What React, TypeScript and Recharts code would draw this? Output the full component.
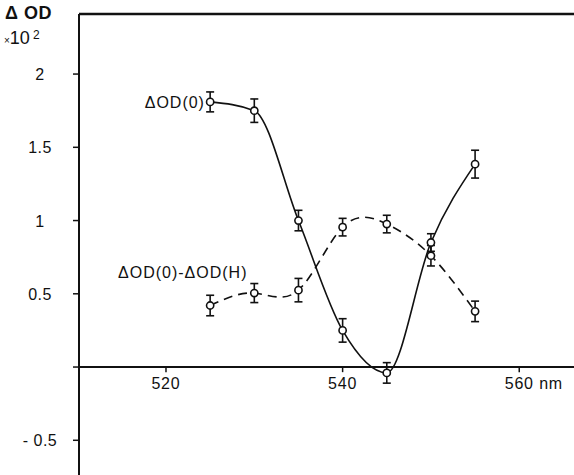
import React from 'react';
import {
  LineChart, Line, XAxis, YAxis, ErrorBar, ReferenceLine, ReferenceDot,
} from 'recharts';

const FONT = '"Liberation Sans", Arial, sans-serif';
const INK = '#111';

// Wavelengths (nm) and the two measured series (ΔOD ×10²)
const wavelengths = [525, 530, 535, 540, 545, 550, 555];
const od0 = [1.81, 1.75, 1.0, 0.25, -0.04, 0.85, 1.385];
const od0Err = [0.068, 0.08, 0.07, 0.08, 0.07, 0.06, 0.095];
const odDiff = [0.42, 0.505, 0.525, 0.955, 0.976, 0.76, 0.38];
const odDiffErr = [0.07, 0.065, 0.08, 0.06, 0.06, 0.07, 0.07];

const xTicks = [520, 540, 560];
const yTicks = [-0.5, 0, 0.5, 1, 1.5, 2];
const X_DOMAIN: [number, number] = [510.15, 566.2];
const Y_MIN = -0.737;
const Y_MAX = 2.41;

const data = wavelengths.map((nm, i) => ({
  nm,
  od0: od0[i],
  od0Err: od0Err[i],
  diff: odDiff[i],
  diffErr: odDiffErr[i],
}));

const yLabel = (v: number) => {
  if (v === 0) return '';
  if (v < 0) return `- ${Math.abs(v)}`;
  return String(v);
};

const OpenDot = (p: any) => (
  <circle key={p.index} cx={p.cx} cy={p.cy} r={3.6} fill="#fff" stroke={INK} strokeWidth={1.6} />
);

const YTick = (p: any) => (
  <text x={p.x - 31} y={p.y} dy={6} textAnchor="middle" fill={INK}
    fontFamily={FONT} fontSize={16} letterSpacing={0.5}>
    {yLabel(p.payload.value)}
  </text>
);

const xTickShape = (value: number) => (p: any) => (
  <g>
    <text x={p.cx} y={p.cy} dy={6} textAnchor="middle" fill={INK}
      fontFamily={FONT} fontSize={16} letterSpacing={0.8}>{value}</text>
    {value === 560 && (
      <text x={p.cx + 20} y={p.cy} dy={6} textAnchor="start" fill={INK}
        fontFamily={FONT} fontSize={16} letterSpacing={0.5}>nm</text>
    )}
  </g>
);

const textShape = (value: string) => (p: any) => (
  <text x={p.cx} y={p.cy} dy={6} textAnchor="middle" fill={INK}
    fontFamily={FONT} fontSize={16} letterSpacing={1}>{value}</text>
);

export default function App() {
  return (
    <div style={{ position: 'absolute', left: 0, top: 0, width: 574, height: 475, background: '#fff' }}>
      <div style={{ position: 'absolute', left: 5, top: 3, fontFamily: FONT, fontSize: 18, fontWeight: 'bold', color: INK, letterSpacing: 0.5 }}>
        Δ OD
      </div>
      <div style={{ position: 'absolute', left: 4, top: 28, fontFamily: FONT, fontSize: 18, color: INK, lineHeight: '20px' }}>
        <span style={{ fontSize: 10 }}>×</span>10<sup style={{ fontSize: 12, marginLeft: 3, verticalAlign: 'top', position: 'relative', top: -3 }}>2</sup>
      </div>
      <LineChart width={574} height={475} data={data} margin={{ top: 14, right: 0, bottom: 0, left: 0 }}>
        <XAxis dataKey="nm" type="number" domain={X_DOMAIN} allowDataOverflow hide />
        <YAxis type="number" domain={[Y_MIN, Y_MAX]} allowDataOverflow ticks={yTicks} interval={0}
          width={79} tickSize={6} tick={<YTick />}
          axisLine={{ stroke: INK, strokeWidth: 2 }} tickLine={{ stroke: INK, strokeWidth: 1.5 }} />

        <ReferenceLine y={Y_MAX} stroke={INK} strokeWidth={2.5} />
        <ReferenceLine y={0} stroke={INK} strokeWidth={2} />
        {xTicks.map(t => (
          <ReferenceLine key={`s${t}`} segment={[{ x: t, y: 0 }, { x: t, y: -0.035 }]} stroke={INK} strokeWidth={1.5} />
        ))}
        {xTicks.map(t => (
          <ReferenceDot key={`l${t}`} x={t} y={-0.11} r={0} shape={xTickShape(t)} />
        ))}

        <ReferenceDot x={521.0} y={1.81} r={0} shape={textShape('ΔOD(0)')} />
        <ReferenceDot x={521.9} y={0.648} r={0} shape={textShape('ΔOD(0)-ΔOD(H)')} />

        <Line type="monotone" dataKey="od0" stroke={INK} strokeWidth={1.6} dot={<OpenDot />}
          activeDot={false} isAnimationActive={false}>
          <ErrorBar dataKey="od0Err" width={4} strokeWidth={1.6} stroke={INK} direction="y" />
        </Line>
        <Line type="natural" dataKey="diff" stroke={INK} strokeWidth={1.6} strokeDasharray="9 6"
          dot={<OpenDot />} activeDot={false} isAnimationActive={false}>
          <ErrorBar dataKey="diffErr" width={4} strokeWidth={1.6} stroke={INK} direction="y" />
        </Line>
      </LineChart>
    </div>
  );
}
